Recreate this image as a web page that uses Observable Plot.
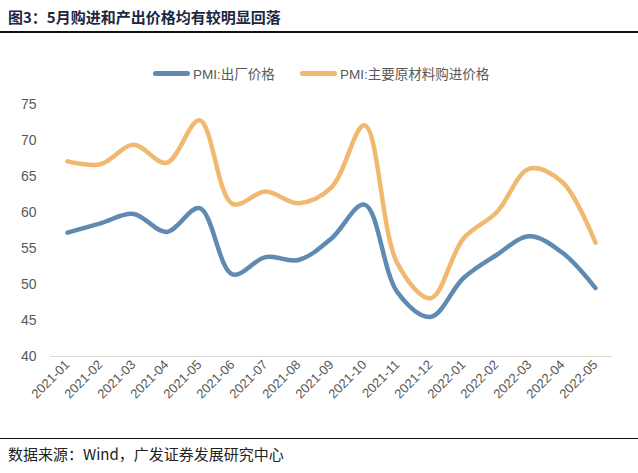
<!DOCTYPE html>
<html>
<head>
<meta charset="utf-8">
<script src="https://cdn.jsdelivr.net/npm/d3@7"></script>
<script src="https://cdn.jsdelivr.net/npm/@observablehq/plot@0.6"></script>
<style>
  html, body { margin: 0; padding: 0; background: #fff; }
  body { width: 638px; height: 473px; position: relative; overflow: hidden; font-family: "Noto Sans CJK SC", "Liberation Sans", sans-serif; }
  #title { position: absolute; left: 0; top: 0; width: 638px; height: 33px; border-bottom: 2px solid #111; box-sizing: border-box; }
  #title span { position: absolute; left: 8px; top: 6px; font-size: 15px; font-weight: 700; color: #1c2740; }
  #legend { position: absolute; left: 0; top: 34px; width: 638px; height: 56px; font-family: "Liberation Sans", "Noto Sans CJK SC", sans-serif; font-size: 13.5px; color: #595959; }
  .item { position: absolute; top: 29px; display: flex; align-items: center; }
  .sw { width: 37px; height: 5px; border-radius: 3px; margin-right: 3px; }
  #chart { position: absolute; left: 0; top: 90px; }
  #foot { position: absolute; left: 0; top: 438px; width: 638px; border-top: 1.5px solid #111; }
  #foot span { position: absolute; left: 8px; top: 4px; font-size: 15px; color: #222; white-space: nowrap; }
</style>
</head>
<body>
<div id="title"><span>图3：5月购进和产出价格均有较明显回落</span></div>
<div id="legend"></div>
<div id="chart"></div>
<div id="foot"><span>数据来源：Wind，广发证券发展研究中心</span></div>
<script>
const months = ["2021-01","2021-02","2021-03","2021-04","2021-05","2021-06","2021-07","2021-08","2021-09","2021-10","2021-11","2021-12","2022-01","2022-02","2022-03","2022-04","2022-05"];
const outputPrice = [57.2, 58.5, 59.8, 57.3, 60.6, 51.4, 53.8, 53.4, 56.4, 61.1, 48.9, 45.5, 50.9, 54.1, 56.7, 54.4, 49.5];
const inputPrice = [67.1, 66.7, 69.4, 66.9, 72.8, 61.2, 62.9, 61.3, 63.5, 72.1, 52.9, 48.1, 56.4, 60.0, 66.1, 64.2, 55.8];
const seriesNames = ["PMI:出厂价格", "PMI:主要原材料购进价格"];
const colors = ["#5f8bb3", "#f1b970"];
const yTicks = [40, 45, 50, 55, 60, 65, 70, 75];

const data = [];
months.forEach((m, i) => {
  data.push({month: m, value: outputPrice[i], series: seriesNames[0]});
  data.push({month: m, value: inputPrice[i], series: seriesNames[1]});
});

// legend
const legend = document.getElementById("legend");
const lefts = [153, 300];
seriesNames.forEach((n, i) => {
  const d = document.createElement("div");
  d.className = "item";
  d.style.left = lefts[i] + "px";
  d.innerHTML = `<div class="sw" style="background:${colors[i]}"></div><span>${n}</span>`;
  legend.appendChild(d);
});

const chart = Plot.plot({
  width: 638,
  height: 348,
  marginLeft: 50,
  marginRight: 26,
  marginTop: 14,
  marginBottom: 82,
  style: {fontFamily: "Liberation Sans, Arial, sans-serif", color: "#595959", background: "white"},
  x: {type: "point", domain: months, padding: 0.5, label: null},
  y: {domain: [40, 75], label: null},
  color: {domain: seriesNames, range: colors},
  marks: [
    Plot.ruleY([40], {stroke: "#d9d9d9", strokeWidth: 1}),
    Plot.axisY({ticks: yTicks, tickSize: 0, tickPadding: 14, fontSize: 14, label: null, tickFormat: d => d}),
    Plot.axisX({tickSize: 0, tickRotate: -45, tickPadding: 6, fontSize: 13, label: null}),
    Plot.lineY(data, {x: "month", y: "value", stroke: "series", strokeWidth: 4.5, curve: "catmull-rom", strokeLinecap: "round"})
  ]
});
document.getElementById("chart").appendChild(chart);
</script>
</body>
</html>
